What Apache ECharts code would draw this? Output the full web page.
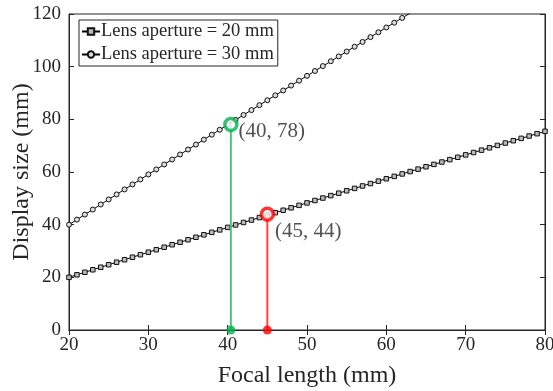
<!DOCTYPE html>
<html>
<head>
<meta charset="utf-8">
<script src="https://cdn.jsdelivr.net/npm/echarts@6/dist/echarts.min.js"></script>
<style>
  html, body { margin: 0; padding: 0; background: #fff; }
  #chart { width: 553px; height: 391px; }
</style>
</head>
<body>
<div id="chart"></div>
<script>
// focal length (mm), one point per mm
const focal = [20, 21, 22, 23, 24, 25, 26, 27, 28, 29, 30, 31, 32, 33, 34, 35, 36, 37, 38, 39,
  40, 41, 42, 43, 44, 45, 46, 47, 48, 49, 50, 51, 52, 53, 54, 55, 56, 57, 58, 59,
  60, 61, 62, 63, 64, 65, 66, 67, 68, 69, 70, 71, 72, 73, 74, 75, 76, 77, 78, 79, 80]

// display size (mm), aperture 20 mm
const size20 = [20.00, 20.96, 21.92, 22.87, 23.83, 24.79, 25.74, 26.69, 27.64, 28.59,
  29.54, 30.49, 31.43, 32.38, 33.32, 34.27, 35.21, 36.15, 37.09, 38.02,
  38.96, 39.90, 40.83, 41.76, 42.69, 43.63, 44.55, 45.48, 46.41, 47.34,
  48.26, 49.18, 50.11, 51.03, 51.95, 52.87, 53.78, 54.70, 55.61, 56.53,
  57.44, 58.35, 59.26, 60.17, 61.08, 61.99, 62.89, 63.79, 64.70, 65.60,
  66.50, 67.40, 68.30, 69.19, 70.09, 70.99, 71.88, 72.77, 73.66, 74.55, 75.44]

// display size (mm), aperture 30 mm (runs off the top past ~63 mm)
const size30 = [40.00, 41.92, 43.84, 45.74, 47.66, 49.58, 51.48, 53.38, 55.28, 57.18,
  59.08, 60.98, 62.86, 64.76, 66.64, 68.54, 70.42, 72.30, 74.18, 76.04,
  77.92, 79.80, 81.66, 83.52, 85.38, 87.26, 89.10, 90.96, 92.82, 94.68,
  96.52, 98.36, 100.22, 102.06, 103.90, 105.74, 107.56, 109.40, 111.22, 113.06,
  114.88, 116.70, 118.52, 120.34, 122.16]

// highlighted points
const markX = [40.4, 45]
const markY = [78, 44]
const markText = ['(40, 78)', '(45, 44)']
const markRing = ['#00b050', '#ff0000']
const markStem = ['#4cc27a', '#ff4545']

const FONT = 'Liberation Serif'
const INK = '#262626'

const pairs = (ys) => ys.map((y, i) => [focal[i], y])

const chart = echarts.init(document.getElementById('chart'))

const series = [
  {
    name: 'Lens aperture = 20 mm', type: 'line', data: pairs(size20),
    symbol: 'rect', symbolSize: 4.5, showAllSymbol: true,
    lineStyle: { color: '#000', width: 1 },
    itemStyle: { color: '#bbb', borderColor: '#111', borderWidth: 1 },
    z: 3,
  },
  {
    name: 'Lens aperture = 30 mm', type: 'line', data: pairs(size30),
    symbol: 'circle', symbolSize: 5, showAllSymbol: true,
    lineStyle: { color: '#000', width: 1 },
    itemStyle: { color: '#ddd', borderColor: '#111', borderWidth: 1 },
    z: 3,
  },
]

markX.forEach((x, i) => {
  series.push({
    type: 'line', data: [[x, 0], [x, markY[i]]], symbol: 'none',
    lineStyle: { color: markStem[i], width: 2 }, z: 4,
  })
  series.push({
    type: 'scatter', data: [[x, 0]], symbol: 'circle', symbolSize: 9, clip: false,
    itemStyle: { color: markRing[i] }, z: 5,
  })
  series.push({
    type: 'scatter', data: [[x, markY[i]]], symbol: 'circle', symbolSize: 12, clip: false,
    itemStyle: { color: '#fff', borderColor: markRing[i], borderWidth: 3.5 },
    label: {
      show: true, formatter: markText[i], position: 'right', distance: 0,
      offset: i === 0 ? [0, 7] : [0, 17],
      fontFamily: FONT, fontSize: 21, color: INK,
    },
    z: 6,
  })
})

chart.setOption({
  animation: false,
  grid: {
    left: 69, right: 8, top: 14, bottom: 61, outerBoundsMode: 'none',
    show: true, borderColor: INK, borderWidth: 1,
  },
  legend: {
    data: ['Lens aperture = 20 mm', 'Lens aperture = 30 mm'],
    orient: 'vertical', left: 79, top: 20,
    itemWidth: 18, itemHeight: 8, itemGap: 4,
    padding: [2, 4, 2, 2],
    borderColor: INK, borderWidth: 1, backgroundColor: '#fff',
    textStyle: { fontFamily: FONT, fontSize: 18.5, color: INK, padding: [0, 0, 0, -4] },
  },
  xAxis: [
    {
      type: 'value', min: 20, max: 80, interval: 10,
      name: 'Focal length (mm)', nameLocation: 'middle', nameGap: 34, nameMoveOverlap: false,
      nameTextStyle: { fontFamily: FONT, fontSize: 24, color: INK },
      axisLine: { lineStyle: { color: INK } },
      axisTick: { inside: true, length: 5, lineStyle: { color: INK } },
      axisLabel: { fontFamily: FONT, fontSize: 19, color: INK, margin: 6 },
      splitLine: { show: false },
    },
    {
      type: 'value', min: 20, max: 80, interval: 10, position: 'top',
      axisLine: { lineStyle: { color: INK } },
      axisTick: { inside: true, length: 5, lineStyle: { color: INK } },
      axisLabel: { show: false }, splitLine: { show: false },
    },
  ],
  yAxis: [
    {
      type: 'value', min: 0, max: 120, interval: 20,
      name: 'Display size (mm)', nameLocation: 'middle', nameGap: 35, nameMoveOverlap: false,
      nameTextStyle: { fontFamily: FONT, fontSize: 24, color: INK },
      axisLine: { show: true, lineStyle: { color: INK } },
      axisTick: { show: true, inside: true, length: 5, lineStyle: { color: INK } },
      axisLabel: { fontFamily: FONT, fontSize: 19, color: INK, margin: 8 },
      splitLine: { show: false },
    },
    {
      type: 'value', min: 0, max: 120, interval: 20, position: 'right',
      axisLine: { show: true, lineStyle: { color: INK } },
      axisTick: { show: true, inside: true, length: 5, lineStyle: { color: INK } },
      axisLabel: { show: false }, splitLine: { show: false },
    },
  ],
  series,
})
</script>
</body>
</html>
